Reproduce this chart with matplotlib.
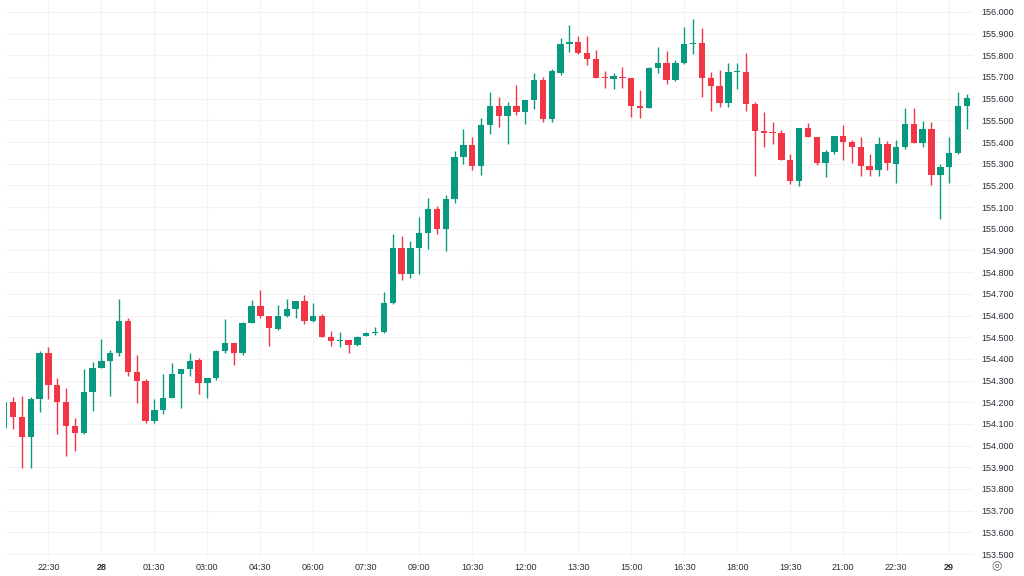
import matplotlib.pyplot as plt
import numpy as np

plt.rcParams['font.family'] = ['Liberation Sans', 'DejaVu Sans']

# 15-minute candles, 27th 21:15 to 29th 00:30
opens = [154.083, 154.203, 154.130, 154.041, 154.215, 154.426, 154.280, 154.200, 154.090, 154.059,
         154.247, 154.359, 154.390, 154.429, 154.576, 154.341, 154.300, 154.113, 154.164, 154.221,
         154.329, 154.353, 154.395, 154.287, 154.313, 154.435, 154.472, 154.426, 154.567, 154.646,
         154.598, 154.540, 154.598, 154.630, 154.669, 154.575, 154.598, 154.502, 154.483, 154.487,
         154.463, 154.506, 154.521, 154.523, 154.656, 154.910, 154.792, 154.910, 154.982, 155.091,
         154.998, 155.136, 155.333, 155.387, 155.291, 155.479, 155.568, 155.520, 155.568, 155.540,
         155.594, 155.686, 155.507, 155.720, 155.851, 155.860, 155.809, 155.782, 155.699, 155.690,
         155.702, 155.694, 155.568, 155.556, 155.740, 155.763, 155.686, 155.766, 155.852, 155.855,
         155.697, 155.660, 155.579, 155.722, 155.725, 155.574, 155.453, 155.445, 155.440, 155.317,
         155.222, 155.467, 155.425, 155.305, 155.353, 155.428, 155.402, 155.379, 155.290, 155.271,
         155.390, 155.299, 155.376, 155.482, 155.397, 155.460, 155.248, 155.284, 155.351, 155.568]
highs = [154.203, 154.222, 154.228, 154.226, 154.438, 154.456, 154.310, 154.264, 154.126, 154.353,
         154.387, 154.490, 154.441, 154.676, 154.590, 154.416, 154.306, 154.215, 154.329, 154.379,
         154.353, 154.426, 154.403, 154.313, 154.441, 154.582, 154.472, 154.570, 154.672, 154.718,
         154.598, 154.649, 154.675, 154.669, 154.695, 154.656, 154.606, 154.529, 154.523, 154.487,
         154.506, 154.523, 154.546, 154.710, 154.976, 154.967, 154.944, 155.053, 155.141, 155.105,
         155.156, 155.359, 155.460, 155.422, 155.513, 155.630, 155.606, 155.586, 155.663, 155.594,
         155.720, 155.702, 155.736, 155.879, 155.940, 155.889, 155.889, 155.825, 155.729, 155.717,
         155.748, 155.694, 155.640, 155.748, 155.840, 155.820, 155.779, 155.929, 155.968, 155.925,
         155.725, 155.732, 155.763, 155.763, 155.812, 155.586, 155.537, 155.491, 155.456, 155.344,
         155.467, 155.490, 155.425, 155.364, 155.428, 155.479, 155.410, 155.425, 155.344, 155.422,
         155.405, 155.410, 155.556, 155.556, 155.497, 155.494, 155.297, 155.422, 155.630, 155.622]
lows = [154.083, 154.076, 153.895, 153.895, 154.153, 154.215, 154.052, 153.952, 153.977, 154.054,
        154.161, 154.359, 154.229, 154.413, 154.323, 154.195, 154.103, 154.103, 154.144, 154.218,
        154.172, 154.321, 154.237, 154.218, 154.303, 154.426, 154.372, 154.420, 154.564, 154.587,
        154.459, 154.533, 154.595, 154.590, 154.559, 154.572, 154.502, 154.459, 154.453, 154.429,
        154.459, 154.505, 154.510, 154.518, 154.653, 154.764, 154.772, 154.792, 154.905, 154.976,
        154.899, 155.117, 155.299, 155.271, 155.248, 155.436, 155.468, 155.391, 155.525, 155.482,
        155.551, 155.494, 155.494, 155.709, 155.814, 155.805, 155.756, 155.694, 155.648, 155.643,
        155.648, 155.514, 155.513, 155.556, 155.717, 155.668, 155.683, 155.759, 155.806, 155.609,
        155.545, 155.560, 155.563, 155.643, 155.543, 155.245, 155.379, 155.390, 155.317, 155.207,
        155.199, 155.425, 155.294, 155.241, 155.344, 155.317, 155.305, 155.245, 155.245, 155.244,
        155.271, 155.210, 155.367, 155.394, 155.376, 155.202, 155.044, 155.210, 155.345, 155.460]
closes = [154.203, 154.133, 154.041, 154.215, 154.426, 154.280, 154.201, 154.090, 154.060, 154.247,
          154.359, 154.390, 154.429, 154.576, 154.341, 154.300, 154.113, 154.164, 154.221, 154.329,
          154.353, 154.392, 154.287, 154.313, 154.435, 154.472, 154.426, 154.567, 154.646, 154.598,
          154.541, 154.598, 154.630, 154.669, 154.575, 154.598, 154.502, 154.483, 154.487, 154.463,
          154.502, 154.518, 154.526, 154.656, 154.910, 154.792, 154.910, 154.982, 155.091, 154.998,
          155.138, 155.333, 155.387, 155.291, 155.479, 155.568, 155.520, 155.568, 155.540, 155.594,
          155.686, 155.507, 155.728, 155.851, 155.860, 155.809, 155.782, 155.694, 155.694, 155.705,
          155.694, 155.568, 155.556, 155.740, 155.763, 155.686, 155.766, 155.852, 155.855, 155.697,
          155.660, 155.579, 155.722, 155.725, 155.574, 155.453, 155.440, 155.440, 155.317, 155.222,
          155.467, 155.425, 155.305, 155.353, 155.428, 155.402, 155.379, 155.290, 155.271, 155.390,
          155.305, 155.376, 155.482, 155.397, 155.460, 155.248, 155.284, 155.351, 155.568, 155.602]

time_labels = ['22:30', '28', '01:30', '03:00', '04:30', '06:00', '07:30', '09:00', '10:30',
               '12:00', '13:30', '15:00', '16:30', '18:00', '19:30', '21:00', '22:30', '29']
first_label_candle = 5   # 22:30 candle
label_step = 6           # every 90 min

o = np.array(opens)
h = np.array(highs)
l = np.array(lows)
c = np.array(closes)
x = np.arange(len(o))

up_col = '#089981'
down_col = '#f23645'
cols = np.where(c >= o, up_col, down_col)

fig = plt.figure(figsize=(10.24, 5.76), dpi=100)
ax = fig.add_axes([6 / 1024, 20 / 576, 967 / 1024, 556 / 576])

# фитили и тела свечей
ax.vlines(x, l, h, colors=cols, linewidth=1, zorder=2)
body_bottom = np.minimum(o, c)
body_height = np.maximum(np.abs(c - o), 0.004)
ax.bar(x, body_height, bottom=body_bottom, width=0.72, color=cols, linewidth=0, zorder=3)

ax.set_xlim(0.2, 109.7)
ax.set_ylim(153.491, 156.055)

yticks = np.arange(153.5, 156.0001, 0.1)
ax.set_yticks(yticks)
ax.set_yticklabels([f'{v:.3f}' for v in yticks])
ax.yaxis.tick_right()
ax.tick_params(axis='y', length=0, pad=6, labelsize=6.5, colors='#2a2e39')

xticks = [first_label_candle + label_step * k for k in range(len(time_labels))]
ax.set_xticks(xticks)
ax.set_xticklabels(time_labels)
ax.tick_params(axis='x', length=0, pad=5, labelsize=6.5, colors='#2a2e39')
for lab in ax.get_xticklabels():
    if lab.get_text() in ('28', '29'):
        lab.set_fontweight('bold')

ax.grid(True, color='#f2f2f4', linewidth=0.8)
ax.set_axisbelow(True)
for s in ax.spines.values():
    s.set_visible(False)

# значок настроек в углу
fig.text(996 / 1024, 1 - 566 / 576, '\u25ce', ha='center', va='center',
         fontsize=8.5, color='#555555', family='DejaVu Sans')

fig.savefig('out.png', dpi=100)
